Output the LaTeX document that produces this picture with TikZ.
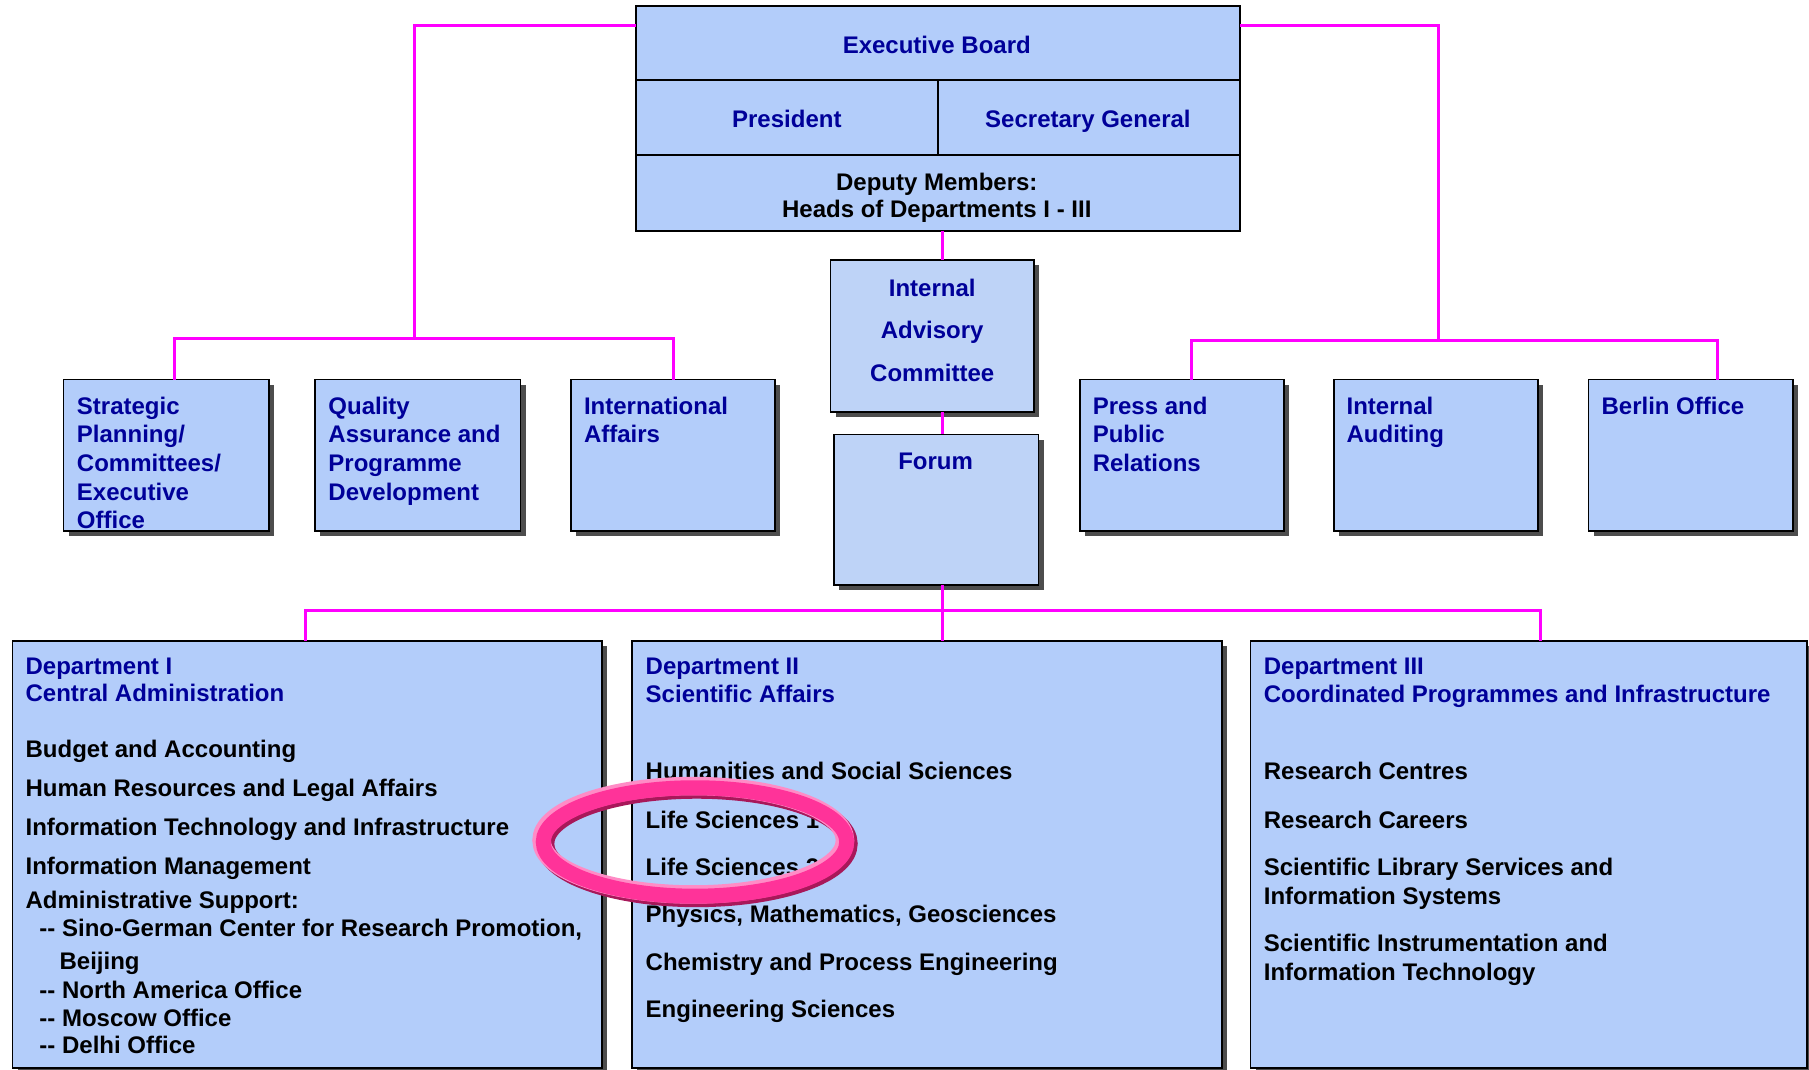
\documentclass[tikz,border=0pt]{standalone}
\usepackage{fontspec}
\setmainfont{Liberation Sans}
\usetikzlibrary{shadows}

\definecolor{boxblue}{HTML}{B3CDFA}
\definecolor{panelblue}{HTML}{BED3F7}
\definecolor{navy}{HTML}{000099}
\definecolor{linkpink}{HTML}{FF00FF}
\definecolor{shade}{HTML}{4D4D4D}
\definecolor{ringmain}{HTML}{FF3399}
\definecolor{ringlight}{HTML}{FF8CC6}
\definecolor{ringdark}{HTML}{A8185A}

\newcommand{\orgfont}{\fontsize{20.8pt}{24pt}\selectfont\bfseries}

\begin{document}
\begin{tikzpicture}[x=1pt,y=-1pt,
  unit/.style={draw=black, line width=1.4pt, fill=boxblue, inner sep=0pt,
    outer sep=0pt, anchor=north west},
  shadowed/.style={general shadow={fill=shade, shadow xshift=4.5pt, shadow yshift=-4.5pt}},
  smallbox/.style={unit, shadowed, minimum width=177pt, minimum height=131pt},
  deptbox/.style={unit, shadowed, minimum height=370pt},
  head/.style={text=navy, font=\orgfont, inner sep=0pt, anchor=base west},
  item/.style={text=black, font=\orgfont, inner sep=0pt, anchor=base west},
  title/.style={text=navy, font=\orgfont, inner sep=0pt, anchor=base},
  link/.style={draw=linkpink, line width=2.6pt}]

\useasboundingbox (0,0) rectangle (1568,927);
\fill[white] (0,0) rectangle (1568,927);

% ---------- executive board ----------
\node[unit, minimum width=524pt, minimum height=64.5pt] (eb) at (551,5) {};
\node[unit, minimum width=262pt, minimum height=65pt] (pres) at (551,69.5) {};
\node[unit, minimum width=262pt, minimum height=65pt] (sg) at (813,69.5) {};
\node[unit, minimum width=524pt, minimum height=65.5pt] (dep) at (551,134.5) {};
\node[title] (eb-t) at (812,46.7) {Executive Board};
\node[title] (pres-t) at (682,110.8) {President};
\node[title] (sg-t) at (943,110.8) {Secretary General};
\node[title, text=black] (dep-t1) at (812,165) {Deputy Members:};
\node[title, text=black] (dep-t2) at (812,188.5) {Heads of Departments I - III};

% ---------- advisory committee and forum ----------
\node[unit, shadowed, fill=panelblue, minimum width=176pt, minimum height=131.5pt] (iac) at (720,225.5) {};
\node[unit, shadowed, fill=panelblue, minimum width=177pt, minimum height=130.5pt] (fo) at (723,376.5) {};
\node[title] (iac-t1) at (808,256.7) {Internal};
\node[title] (iac-t2) at (808,293.7) {Advisory};
\node[title] (iac-t3) at (808,330.4) {Committee};
\node[title] (fo-t) at (811,407) {Forum};

% ---------- staff units ----------
\node[smallbox, minimum width=178pt] (sp) at (55,329) {};
\node[smallbox, minimum width=178pt] (qa) at (273,329) {};
\node[smallbox] (ia) at (495,329) {};
\node[smallbox] (pr) at (936,329) {};
\node[smallbox] (au) at (1156,329) {};
\node[smallbox] (bo) at (1377,329) {};

\node[head] (sp-t1) at (66.5,359) {Strategic};
\node[head] (sp-t2) at (66.5,383.8) {Planning/};
\node[head] (sp-t3) at (66.5,408.6) {Committees/};
\node[head] (sp-t4) at (66.5,433.4) {Executive};
\node[head] (sp-t5) at (66.5,458.2) {Office};

\node[head] (qa-t1) at (284.5,359) {Quality};
\node[head] (qa-t2) at (284.5,383.8) {Assurance and};
\node[head] (qa-t3) at (284.5,408.6) {Programme};
\node[head] (qa-t4) at (284.5,433.4) {Development};

\node[head] (ia-t1) at (506,359) {International};
\node[head] (ia-t2) at (506,383.8) {Affairs};

\node[head] (pr-t1) at (947,359) {Press and};
\node[head] (pr-t2) at (947,383.8) {Public};
\node[head] (pr-t3) at (947,408.6) {Relations};

\node[head] (au-t1) at (1167,359) {Internal};
\node[head] (au-t2) at (1167,383.8) {Auditing};

\node[head] (bo-t1) at (1388,359) {Berlin Office};

% ---------- departments ----------
\node[deptbox, minimum width=511pt] (d1) at (11,555.5) {};
\node[deptbox, minimum width=511pt] (d2) at (548,555.5) {};
\node[deptbox, minimum width=482pt] (d3) at (1084,555.5) {};

\node[head] (d1-h1) at (22,584.5) {Department I};
\node[head] (d1-h2) at (22,608) {Central Administration};
\node[item] (d1-1) at (22,656.5) {Budget and Accounting};
\node[item] (d1-2) at (22,690.5) {Human Resources and Legal Affairs};
\node[item] (d1-3) at (22,724) {Information Technology and Infrastructure};
\node[item] (d1-4) at (22,758) {Information Management};
\node[item] (d1-5) at (22,787.5) {Administrative Support:};
\node[item] (d1-6) at (34,811.5) {-{}- Sino-German Center for Research Promotion,};
\node[item] (d1-7) at (51.5,840.5) {Beijing};
\node[item] (d1-8) at (34,865.5) {-{}- North America Office};
\node[item] (d1-9) at (34,889.3) {-{}- Moscow Office};
\node[item] (d1-10) at (34,913.3) {-{}- Delhi Office};

\node[head] (d2-h1) at (559.5,584.5) {Department II};
\node[head] (d2-h2) at (559.5,608.5) {Scientific Affairs};
\node[item] (d2-1) at (559.5,676) {Humanities and Social Sciences};
\node[item] (d2-2) at (559.5,718) {Life Sciences 1};
\node[item] (d2-3) at (559.5,758.8) {Life Sciences 2};
\node[item] (d2-4) at (559.5,799.5) {Physics, Mathematics, Geosciences};
\node[item] (d2-5) at (559.5,841.4) {Chemistry and Process Engineering};
\node[item] (d2-6) at (559.5,881.8) {Engineering Sciences};

\node[head] (d3-h1) at (1095.3,584.5) {Department III};
\node[head] (d3-h2) at (1095.3,608.5) {Coordinated Programmes and Infrastructure};
\node[item] (d3-1) at (1095.3,676) {Research Centres};
\node[item] (d3-2) at (1095.3,718) {Research Careers};
\node[item] (d3-3) at (1095.3,758.8) {Scientific Library Services and};
\node[item] (d3-4) at (1095.3,784) {Information Systems};
\node[item] (d3-5) at (1095.3,824.5) {Scientific Instrumentation and};
\node[item] (d3-6) at (1095.3,849.5) {Information Technology};

% ---------- connectors ----------
\coordinate (lbar) at (359,293.3);
\coordinate (rbar) at (1247,294.7);
\coordinate (bbar) at (817,529);

\draw[link] ([yshift=-16.7pt]eb.north west) -| (lbar);
\draw[link] ([xshift=7.5pt]sp.north) |- (ia.north |- lbar) -- (ia.north);

\draw[link] ([yshift=-16.7pt]eb.north east) -| (rbar);
\draw[link] ([xshift=8pt]pr.north) |- ([xshift=23.5pt]bo.north |- rbar) -- ([xshift=23.5pt]bo.north);

\draw[link] ([xshift=4pt]dep.south) -- ([xshift=4pt]dep.south |- iac.north);
\draw[link] ([xshift=4pt]dep.south |- iac.south) -- ([xshift=4pt]dep.south |- fo.north);
\draw[link] ([xshift=4pt]dep.south |- fo.south) -- (bbar);
\draw[link] ([xshift=-1.5pt]d1.north) |- ([xshift=10pt]d3.north |- bbar) -- ([xshift=10pt]d3.north);
\draw[link] (bbar) -- (bbar |- d2.north);

% ---------- highlight ring around the life sciences ----------
\coordinate (ring) at (602.4,729.8);
\draw[ringdark, line width=16pt] ([shift={(1.5pt,-1.5pt)}]ring) ellipse [x radius=131.5pt, y radius=47pt];
\draw[ringlight, line width=16pt] ([shift={(-1.5pt,1.5pt)}]ring) ellipse [x radius=131.5pt, y radius=47pt];
\draw[ringmain, line width=13pt] (ring) ellipse [x radius=131.5pt, y radius=47pt];

\end{tikzpicture}
\end{document}
